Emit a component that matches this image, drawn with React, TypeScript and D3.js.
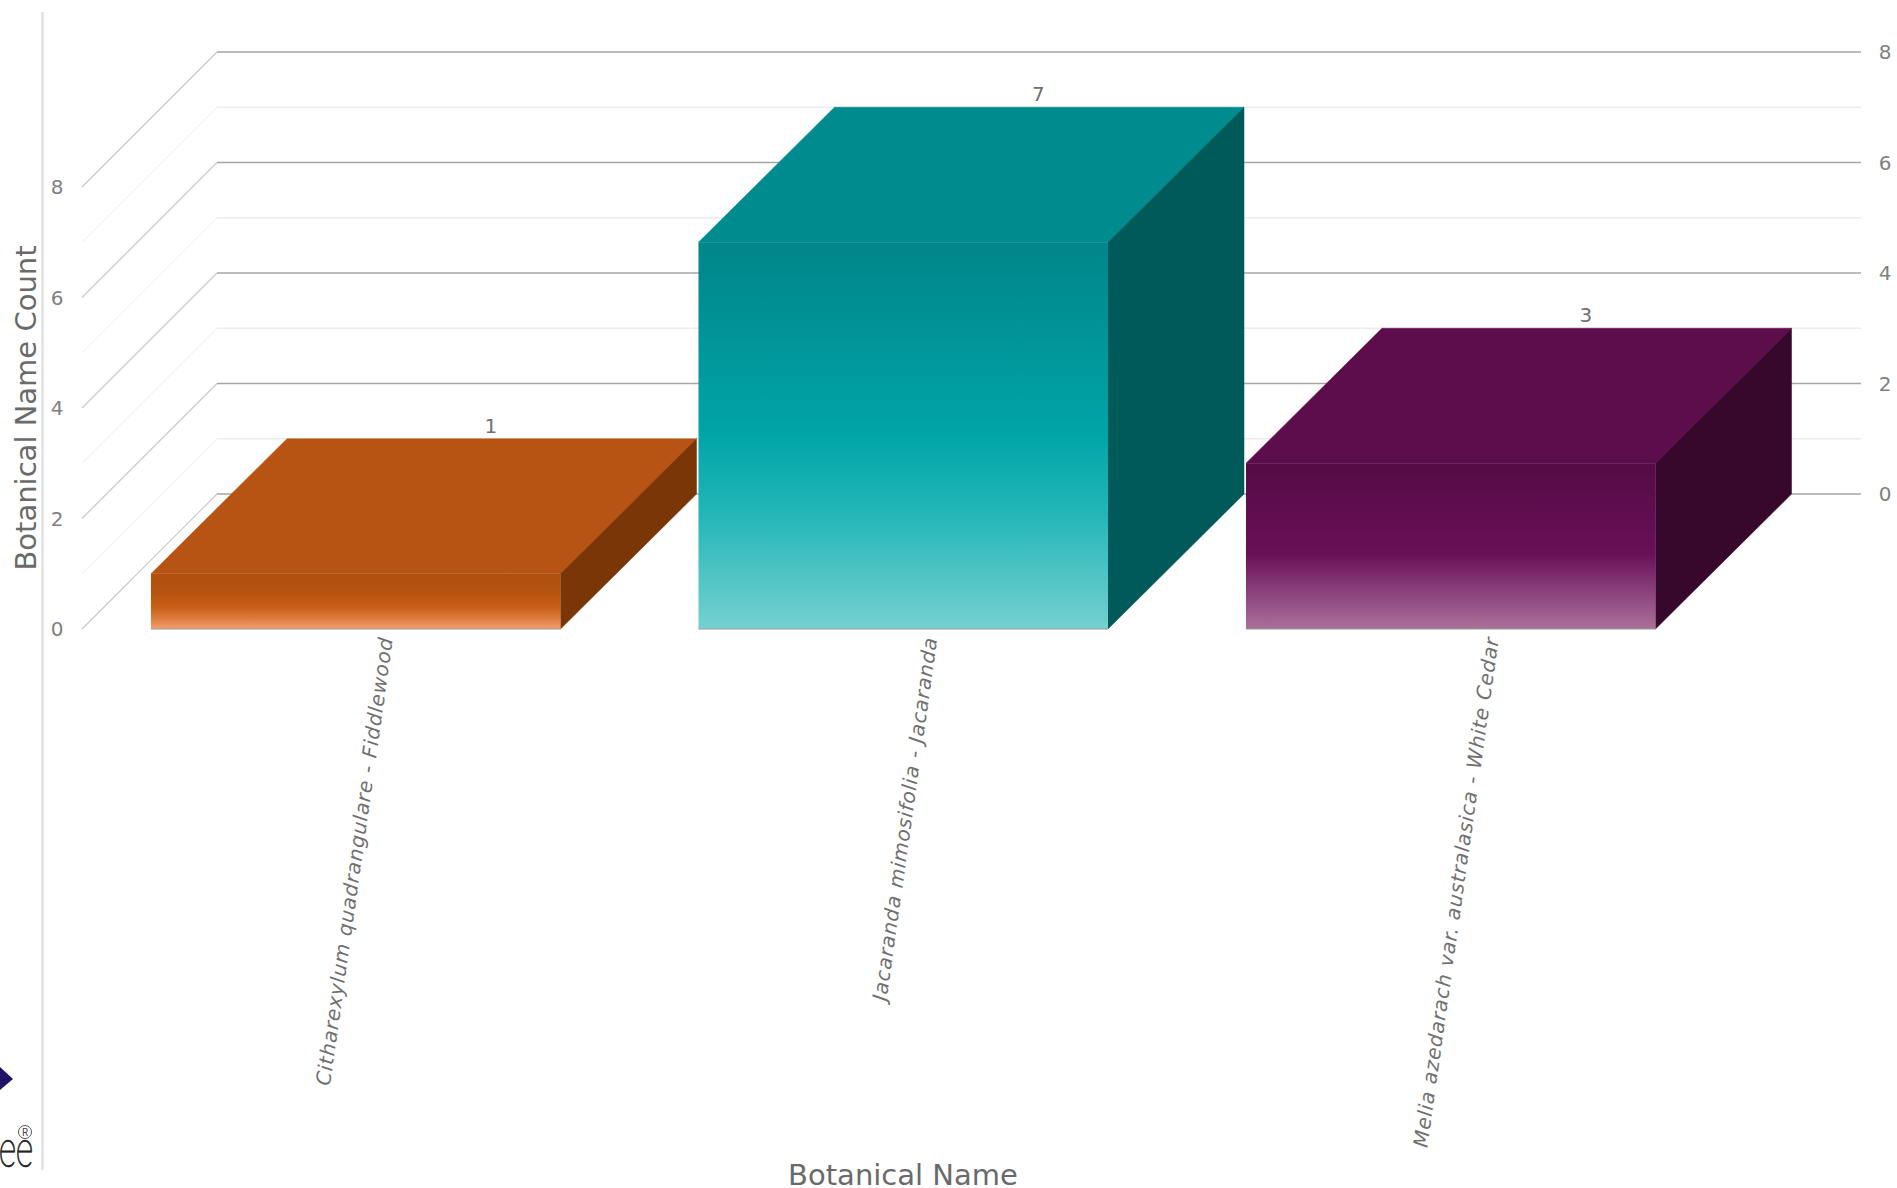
import React from "react";
import * as d3 from "d3";

// Species counts shown by the 3D columns
const categories = [
  "Citharexylum quadrangulare - Fiddlewood",
  "Jacaranda mimosifolia - Jacaranda",
  "Melia azedarach var. australasica - White Cedar",
];
const counts = [1, 7, 3];
const majorTicks = [0, 2, 4, 6, 8];
const minorTicks = [1, 3, 5, 7];

const topColors = ["#b85413", "#008b8e", "#5e0d4c"];
const sideColors = ["#7a3607", "#005a5a", "#37082c"];
const frontStops = [
  [["0", "#b0500f"], ["0.3", "#b4520f"], ["0.6", "#c85e16"], ["0.8", "#dd7a3c"], ["1", "#f2a070"]],
  [["0", "#00858a"], ["0.5", "#00a5a8"], ["0.7", "#22b6b8"], ["1", "#75d0d0"]],
  [["0", "#540b45"], ["0.55", "#6a1058"], ["0.75", "#873c78"], ["1", "#ab7099"]],
];
const labelNudge = [30, 27, 41];

const WIDTH = 1897;
const HEIGHT = 1188;
const DEPTH_X = 136;
const DEPTH_Y = 135;
const FONT = "'DejaVu Sans', sans-serif";

const x = d3.scaleBand<string>().domain(categories).range([82, 1724.5]).paddingInner(0.252).paddingOuter(0.126);
const y = d3.scaleLinear().domain([0, 8]).range([629, 187]);
const poly = (pts: [number, number][]) => d3.line()(pts) + "Z";

export default function App() {
  const x0 = 82;
  const xBack = x0 + DEPTH_X - 1;
  const xEnd = 1861;
  return (
    <svg width={WIDTH} height={HEIGHT} style={{ position: "absolute", left: 0, top: 0, background: "#fff" }}>
      <defs>
        {frontStops.map((stops, i) => (
          <linearGradient key={i} id={`front-${i}`} x1="0" y1="0" x2="0" y2="1">
            {stops.map(([o, c]) => <stop key={o} offset={o} stopColor={c} />)}
          </linearGradient>
        ))}
      </defs>

      {/* Brand mark cut off by the page edge */}
      <path d={poly([[0, 1067], [13, 1079], [0, 1090]])} fill="#1f1464" />
      <text x={33} y={1167} textAnchor="end" textLength={34} lengthAdjust="spacingAndGlyphs" fontFamily="Roboto" fontWeight={100} fontSize={50} fill="#222" stroke="#222" strokeWidth={0.7}>ee</text>
      <circle cx={25} cy={1132} r={6.5} fill="none" stroke="#444" strokeWidth={0.9} />
      <text x={25} y={1136} textAnchor="middle" fontFamily="Roboto" fontSize={10} fill="#444">R</text>

      {/* Left rule */}
      <line x1={42.5} x2={42.5} y1={12} y2={1170} stroke="#e2e2e2" strokeWidth={2.5} />

      {/* Floor and wall grid */}
      {minorTicks.map((t) => (
        <path key={t} fill="none" stroke="#ececec" strokeWidth={1.5}
          d={d3.line()([[xBack, y(t) - DEPTH_Y], [xEnd, y(t) - DEPTH_Y]]) as string} />
      ))}
      {minorTicks.map((t) => (
        <line key={t} x1={x0} y1={y(t)} x2={xBack} y2={y(t) - DEPTH_Y} stroke="#f6f6f6" strokeWidth={1.5} />
      ))}
      {majorTicks.map((t) => (
        <g key={t}>
          <line x1={x0} y1={y(t)} x2={xBack} y2={y(t) - DEPTH_Y} stroke="#c8c8c8" strokeWidth={1.1} />
          <line x1={xBack} y1={y(t) - DEPTH_Y} x2={xEnd} y2={y(t) - DEPTH_Y} stroke="#a6a6a6" strokeWidth={1.6} />
          <text x={57} y={y(t)} dy="0.36em" textAnchor="middle" fontFamily={FONT} fontSize={20} fill="#808080">{t}</text>
          <text x={1885} y={y(t) - DEPTH_Y} dy="0.36em" textAnchor="middle" fontFamily={FONT} fontSize={20} fill="#808080">{t}</text>
        </g>
      ))}

      {/* 3D columns */}
      {categories.map((c, i) => {
        const l = x(c) as number;
        const r = l + x.bandwidth();
        const top = y(counts[i]);
        const base = y(0);
        return (
          <g key={c}>
            <path fill={topColors[i]} stroke={topColors[i]} strokeWidth={0.5} d={poly([[l, top], [l + DEPTH_X, top - DEPTH_Y], [r + DEPTH_X, top - DEPTH_Y], [r, top]])} />
            <path fill={sideColors[i]} stroke={sideColors[i]} strokeWidth={0.5} d={poly([[r, top], [r + DEPTH_X, top - DEPTH_Y], [r + DEPTH_X, base - DEPTH_Y], [r, base]])} />
            <rect x={l} y={top} width={x.bandwidth()} height={base - top} fill={`url(#front-${i})`} />
            <line x1={l} x2={r} y1={base} y2={base} stroke="#9a9a9a" strokeWidth={1} />
            <text x={(l + r) / 2 + DEPTH_X - 1} y={top - DEPTH_Y - 6} textAnchor="middle" fontFamily={FONT} fontSize={20} fill="#707070">{counts[i]}</text>
            <text transform={`translate(${(l + r) / 2 + labelNudge[i]},637) rotate(-82)`} textAnchor="end" dy="0.36em"
              fontFamily={FONT} fontStyle="italic" fontSize={20} letterSpacing={0.8} fill="#707070">{c}</text>
          </g>
        );
      })}

      {/* Axis titles */}
      <text transform="translate(36,408) rotate(-90)" textAnchor="middle" fontFamily={FONT} fontSize={29} fill="#6a6a6a">Botanical Name Count</text>
      <text x={903} y={1185} textAnchor="middle" fontFamily={FONT} fontSize={29} fill="#6a6a6a">Botanical Name</text>
    </svg>
  );
}
